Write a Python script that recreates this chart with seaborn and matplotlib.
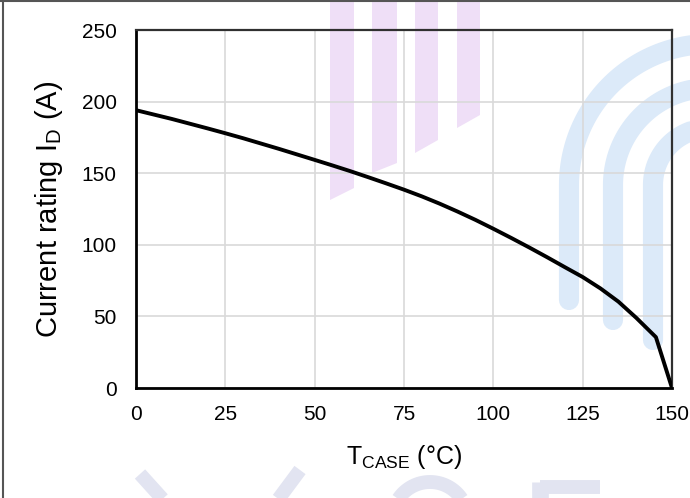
import numpy as np
import pandas as pd
import seaborn as sns
import matplotlib.pyplot as plt
from matplotlib.patches import Polygon
from matplotlib.lines import Line2D

# curve
t_case = [0, 10, 20, 25, 30, 40, 50, 55, 60, 65, 70, 75, 80, 85, 90, 95, 100,
          105, 110, 115, 120, 125, 130, 135, 140, 145.5, 150]
i_d = [194, 187.9, 181.3, 177.9, 174.4, 167, 159.3, 155.4, 151.4, 147.2, 142.9, 138.5, 133.8, 128.7, 123.2,
       117.4, 111.2, 104.8, 98.2, 91.4, 84.4, 77.5, 69.5, 60.3, 49, 35.5, 0]
x_ticks = [0, 25, 50, 75, 100, 125, 150]
y_ticks = [0, 50, 100, 150, 200, 250]

df = pd.DataFrame({'T': t_case, 'I': i_d})

sns.set_style('whitegrid')
plt.rcParams['font.family'] = ['Liberation Sans', 'DejaVu Sans']
plt.rcParams['mathtext.fontset'] = 'custom'
plt.rcParams['mathtext.rm'] = 'Liberation Sans'

W, H = 690, 498
fig = plt.figure(figsize=(W / 100, H / 100), dpi=100)


def fxy(x, y):
    return (x / W, 1 - y / H)


def stroke(xs, ys, color, lw, cap='butt'):
    pts = [fxy(a, b) for a, b in zip(xs, ys)]
    fig.add_artist(Line2D([p[0] for p in pts], [p[1] for p in pts], transform=fig.transFigure,
                          color=color, lw=lw, solid_capstyle=cap, zorder=-2))


# watermark: purple bars
bars = [(330, 354, 200, 188), (372, 397, 173, 163), (415, 438, 153, 140), (457, 480, 128, 115)]
for x0, x1, yl, yr in bars:
    pts = [fxy(x0, 0), fxy(x1, 0), fxy(x1, yr), fxy(x0, yl)]
    fig.add_artist(Polygon(pts, closed=True, transform=fig.transFigure,
                           facecolor='#efdff7', edgecolor='none', zorder=-2))

# watermark: blue arches
cx, cy = 710, 185
th = np.linspace(np.pi, np.pi / 2, 60)
for r, ybot in [(141, 300), (97, 320), (57, 340), (17, 350)]:
    stroke([cx - r] + list(cx + r * np.cos(th)), [ybot] + list(cy - r * np.sin(th)),
           '#dceaf9', 14.5, 'round')

# watermark: letter fragments along the bottom edge
wm = '#e2e4f1'
stroke([140, 168], [474, 505], wm, 10)
stroke([300, 274], [470, 505], wm, 10)
ang = np.linspace(0.15 * np.pi, 0.85 * np.pi, 40)
stroke(list(430 + 38 * np.cos(ang)), list(520 - 38 * np.sin(ang)), wm, 10)
stroke([540, 540], [482, 505], wm, 12)
stroke([540, 600], [487, 487], wm, 10)

ax = fig.add_axes([136 / W, 1 - 388 / H, 536 / W, 358 / H])
ax.patch.set_alpha(0)

sns.lineplot(data=df, x='T', y='I', ax=ax, color='black', lw=2.8, zorder=3)

ax.set_xlim(0, 150)
ax.set_ylim(0, 250)
ax.set_xticks(x_ticks)
ax.set_yticks(y_ticks)
ax.grid(True, color='#d9d9d9', lw=1.2)
ax.tick_params(axis='both', length=0, labelsize=15, colors='black')
ax.tick_params(axis='x', pad=12)
ax.tick_params(axis='y', pad=14)

for side in ['top', 'right']:
    ax.spines[side].set_color('#303030')
    ax.spines[side].set_linewidth(1.6)
for side in ['left', 'bottom']:
    ax.spines[side].set_color('black')
    ax.spines[side].set_linewidth(2.0)

ax.set_xlabel(r'T$_\mathregular{CASE}$ (°C)', fontsize=18, labelpad=14, color='black')
ax.set_ylabel(r'Current rating I$_\mathregular{D}$ (A)', fontsize=21, labelpad=12, color='black')

# figure frame on left and top
fig.add_artist(Line2D([2.5 / W, 2.5 / W], [0, 1], transform=fig.transFigure, color='#555555', lw=1.5))
fig.add_artist(Line2D([0, 1], [1 - 0.8 / H, 1 - 0.8 / H], transform=fig.transFigure, color='#555555', lw=1.5))

fig.savefig('out.png', dpi=100)
